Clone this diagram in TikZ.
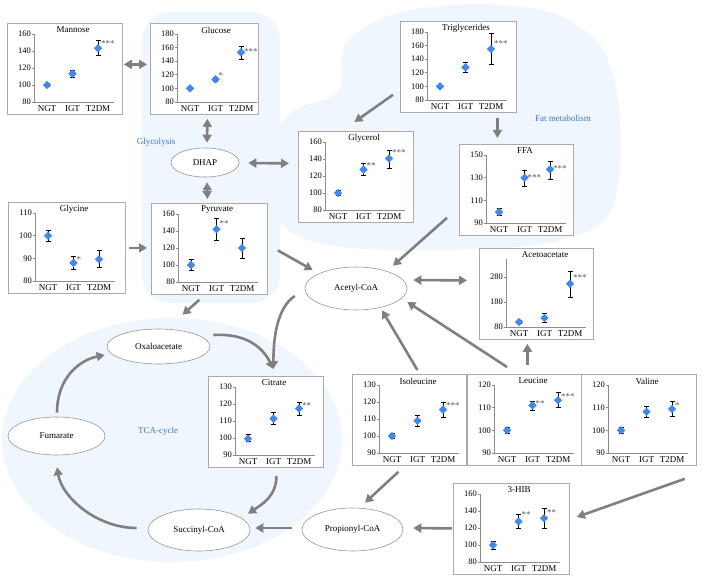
\documentclass[tikz,border=0pt]{standalone}
\usepackage{fontspec}
\setmainfont{Liberation Serif}
\usepackage{tikz}
\usetikzlibrary{arrows.meta,shapes.geometric,calc}

\definecolor{bloblue}{RGB}{239,246,253}
\definecolor{markblue}{RGB}{66,135,235}
\definecolor{flowgray}{RGB}{128,128,128}
\definecolor{framegray}{RGB}{170,170,170}
\definecolor{axisgray}{RGB}{140,140,140}
\definecolor{edgegray}{RGB}{150,150,150}
\definecolor{stargray}{RGB}{90,90,90}
\definecolor{labblue}{RGB}{68,114,196}

% y position of a value inside the current chart
\newcommand{\yof}[1]{\chy+79-(#1-\chlo)/(\chhi-\chlo)*68}

% small chart: name, x, y (top left), title, ymin, ymax, ticks, width
\newcommand{\minichart}[8]{%
  \def\chname{#1}\def\chx{#2}\def\chy{#3}\def\chlo{#5}\def\chhi{#6}%
  \node[chartbox,minimum width=#8pt,anchor=north west] (#1) at (#2,#3) {};
  \node[charttitle] (#1-title) at ({#2+66},{#3+7}) {#4};
  \draw[chartaxis] ({#2+27},{#3+11}) -- ({#2+27},{#3+79}) -- ({#2+107},{#3+79});
  \foreach \tk in {#7}{
    \draw[chartaxis] ({#2+25},{\yof{\tk}}) -- ({#2+27},{\yof{\tk}});
    \node[ticklab] (#1-t\tk) at ({#2+24},{\yof{\tk}}) {\tk};
  }
  \node[grplab] (#1-ngt) at ({#2+40},{#3+86}) {NGT};
  \node[grplab] (#1-igt) at ({#2+65.5},{#3+86}) {IGT};
  \node[grplab] (#1-t2dm) at ({#2+91},{#3+86}) {T2DM};
}

% one group: column, mean, low, high, stars, star level
\newcommand{\chartpoint}[6]{%
  \draw[errbar] ({\chx+14.5+25.5*#1},{\yof{#3}}) -- ({\chx+14.5+25.5*#1},{\yof{#4}})
    ({\chx+12+25.5*#1},{\yof{#3}}) -- ({\chx+17+25.5*#1},{\yof{#3}})
    ({\chx+12+25.5*#1},{\yof{#4}}) -- ({\chx+17+25.5*#1},{\yof{#4}});
  \node[diam] (\chname-d#1) at ({\chx+14.5+25.5*#1},{\yof{#2}}) {};
  \node[sigstar] (\chname-s#1) at ({\chx+17.5+25.5*#1},{\yof{#6}+1.5}) {#5};
}

\begin{document}
\begin{tikzpicture}[x=1pt,y=-1pt,
  chartbox/.style={draw=framegray,fill=white,line width=0.8pt,minimum height=91pt,inner sep=0pt},
  charttitle/.style={font=\fontsize{9}{10}\selectfont,inner sep=0pt},
  ticklab/.style={font=\fontsize{8.5}{10}\selectfont,anchor=east,inner sep=0pt},
  grplab/.style={font=\fontsize{9}{10}\selectfont,inner sep=0pt},
  chartaxis/.style={draw=axisgray,line width=0.6pt},
  errbar/.style={draw=black,line width=0.6pt},
  diam/.style={diamond,fill=markblue,inner sep=0pt,minimum width=8.5pt,minimum height=8.5pt},
  sigstar/.style={font=\fontsize{9}{10}\selectfont,text=stargray,anchor=west,inner sep=0pt},
  metab/.style={ellipse,draw=edgegray,fill=white,line width=0.6pt,inner sep=0pt,font=\fontsize{9}{10}\selectfont},
  flow/.style={draw=flowgray,line width=2.6pt,-{Triangle[length=8pt,width=9pt]}},
  twoway/.style={draw=flowgray,line width=2.6pt,{Triangle[length=8pt,width=9pt]}-{Triangle[length=8pt,width=9pt]}},
  pathlab/.style={text=labblue,font=\fontsize{9}{10}\selectfont}
]
  \useasboundingbox (0,0) rectangle (703,580);

  % pathway backgrounds
  \fill[bloblue,rounded corners=28pt] (142,12) rectangle (280,303);
  \fill[bloblue] plot[smooth cycle] coordinates {(338,92) (345,45) (390,15) (470,4) (550,12)
    (600,45) (618,100) (620,170) (605,220) (550,243) (450,250) (350,248) (290,232)
    (265,190) (270,140) (295,110)};
  \fill[bloblue] (172,440) ellipse [x radius=170pt,y radius=122pt];

  \node[pathlab] (glylab) at (156,142) {Glycolysis};
  \node[pathlab] (fatlab) at (563,118) {Fat metabolism};
  \node[pathlab] (tcalab) at (158,431) {TCA-cycle};

  % charts
  \minichart{mannose}{7}{23}{Mannose}{80}{160}{80,100,...,160}{115}
  \chartpoint{1}{100}{98.5}{101.5}{}{100}
  \chartpoint{2}{113.4}{109}{117.3}{}{117}
  \chartpoint{3}{143.3}{135}{152.8}{***}{150.6}

  \minichart{glucose}{150}{23}{Glucose}{80}{180}{80,100,...,180}{108}
  \chartpoint{1}{100}{99}{101}{}{100}
  \chartpoint{2}{113.3}{110.4}{116.3}{*}{121}
  \chartpoint{3}{153}{143}{162}{***}{157}

  \minichart{tri}{400}{21}{Triglycerides}{80}{180}{80,100,...,180}{116}
  \chartpoint{1}{100}{98}{102}{}{100}
  \chartpoint{2}{128}{120.3}{135.8}{}{130}
  \chartpoint{3}{155}{131.8}{178.5}{***}{164.5}

  \minichart{glycerol}{298}{131}{Glycerol}{80}{160}{80,100,...,160}{115}
  \chartpoint{1}{100}{97}{103}{}{100}
  \chartpoint{2}{127.5}{120.4}{135.5}{**}{133.5}
  \chartpoint{3}{140.6}{129.6}{150.5}{***}{149.3}

  \minichart{ffa}{459}{144}{FFA}{90}{150}{90,110,...,150}{114}
  \chartpoint{1}{99.6}{96.5}{103}{}{100}
  \chartpoint{2}{130}{122.2}{136.6}{***}{131.6}
  \chartpoint{3}{137.3}{129}{144.5}{***}{139.4}

  \minichart{glycine}{8}{202}{Glycine}{80}{110}{80,90,...,110}{117}
  \chartpoint{1}{100}{97.5}{102.2}{}{100}
  \chartpoint{2}{88}{85}{91}{*}{90.3}
  \chartpoint{3}{89.6}{85.9}{93.4}{}{90}

  \minichart{pyr}{151}{203}{Pyruvate}{80}{160}{80,100,...,160}{116}
  \chartpoint{1}{100}{93.2}{107}{}{100}
  \chartpoint{2}{142}{129.2}{154.8}{**}{150}
  \chartpoint{3}{120}{108}{130.9}{}{120}

  \minichart{aceto}{479}{248}{Acetoacetate}{80}{352}{80,180,280}{114}
  \chartpoint{1}{100}{95}{105}{}{100}
  \chartpoint{2}{116}{99}{133}{}{116}
  \chartpoint{3}{253}{200}{303}{***}{283}

  \minichart{citrate}{208}{376}{Citrate}{90}{130}{90,100,...,130}{115}
  \chartpoint{1}{99.6}{97.8}{102.2}{}{100}
  \chartpoint{2}{111.4}{107.8}{115.3}{}{111}
  \chartpoint{3}{117.4}{113.5}{121}{**}{120}

  \minichart{iso}{352}{374}{Isoleucine}{90}{130}{90,100,...,130}{114}
  \chartpoint{1}{100}{98.5}{101.5}{}{100}
  \chartpoint{2}{109}{106}{112}{}{109}
  \chartpoint{3}{115.5}{111.2}{120}{***}{119}

  \minichart{leu}{467}{374}{Leucine}{90}{120}{90,100,...,120}{114}
  \chartpoint{1}{100}{98.8}{101.2}{}{100}
  \chartpoint{2}{111}{109}{113}{**}{112.6}
  \chartpoint{3}{113.3}{110}{116.8}{***}{115.5}

  \minichart{val}{581}{374}{Valine}{90}{120}{90,100,...,120}{115}
  \chartpoint{1}{100}{98.8}{101.2}{}{100}
  \chartpoint{2}{108.2}{105.8}{110.6}{}{108}
  \chartpoint{3}{109.4}{106.4}{112.7}{*}{111.5}

  \minichart{hib}{453}{483}{3-HIB}{80}{160}{80,100,...,160}{116}
  \chartpoint{1}{100}{95}{104.7}{}{100}
  \chartpoint{2}{127.6}{119.6}{136.2}{**}{137.4}
  \chartpoint{3}{131.5}{119.6}{143.5}{**}{140}

  % metabolites
  \node[metab,minimum width=68pt,minimum height=29pt] (dhap) at (205,162.5) {DHAP};
  \node[metab,minimum width=102pt,minimum height=43pt] (acetyl) at (356,288.5) {Acetyl-CoA};
  \node[metab,minimum width=103pt,minimum height=35pt] (oxalo) at (158.5,346.5) {Oxaloacetate};
  \node[metab,minimum width=97pt,minimum height=38pt] (fum) at (56.5,436) {Fumarate};
  \node[metab,minimum width=102pt,minimum height=42pt] (succ) at (199,530) {Succinyl-CoA};
  \node[metab,minimum width=101pt,minimum height=43pt] (prop) at (352.5,529.5) {Propionyl-CoA};

  % glycolysis
  \draw[twoway] ($(mannose.east)+(1,-4.5)$) -- ($(glucose.west)+(-3,-4.5)$);
  \draw[twoway] ($(glucose.south)+(3,4)$) -- ($(dhap.north)+(2,-5)$);
  \draw[twoway] ($(dhap.south)+(2,5)$) -- ($(pyr.north)+(-2,-4)$);
  \draw[twoway] ($(dhap.east)+(9,0.5)$) -- ($(glycerol.west)+(-9,-13.5)$);
  \draw[flow] ($(glycine.east)+(3,0)$) -- ($(pyr.west)+(-4,-1)$);
  \draw[flow] ($(pyr.east)+(10,1.5)$) -- ($(acetyl.west)+(8,-18.5)$);
  \draw[flow] ($(pyr.south)+(-10,5)$) -- ($(oxalo.north)+(24,-14)$);

  % fat metabolism
  \draw[flow] ($(tri.south west)+(-7,-18)$) -- ($(glycerol.north)+(-1.5,-9)$);
  \draw[flow] ($(tri.south)+(39,5)$) -- ($(ffa.north)+(-19,-6)$);
  \draw[flow] ($(ffa.south west)+(-12,-18)$) -- ($(acetyl.north)+(37,-1)$);
  \draw[twoway] ($(acetyl.east)+(6,-8.5)$) -- ($(aceto.west)+(-12,-13.5)$);

  % TCA cycle
  \draw[flow] ($(acetyl.west)+(-10,7.5)$) .. controls +(-18,12) and +(0,-30) .. ($(citrate.north)+(7.5,-7)$);
  \draw[flow] ($(oxalo.east)+(3,-11.5)$) .. controls +(35,-2) and +(-10,-20) .. ($(citrate.north)+(7.5,-7)$);
  \draw[flow] ($(citrate.south)+(10.5,8)$) .. controls +(0,20) and +(15,-10) .. ($(succ.north)+(49,5)$);
  \draw[flow] ($(succ.west)+(-11,-2)$) .. controls +(-40,0) and +(5,30) .. ($(fum.south)+(0.5,12)$);
  \draw[flow] ($(fum.north)+(0.5,-4)$) .. controls +(0,-35) and +(-25,5) .. ($(oxalo.west)+(-2,8.5)$);

  % amino acids
  \draw[flow] ($(prop.west)+(-10,-1.5)$) -- ($(succ.east)+(5,-2)$);
  \draw[flow] ($(hib.west)+(-1,-0.5)$) -- ($(prop.east)+(10,-1.5)$);
  \draw[flow] ($(val.south east)+(-12,13)$) -- ($(hib.north east)+(7,34)$);
  \draw[flow] ($(iso.south)+(-11,6)$) -- ($(prop.north)+(12.5,-5)$);
  \draw[flow] ($(iso.north)+(8,-4)$) -- ($(acetyl.south)+(26,0)$);
  \draw[flow] ($(leu.north west)+(40,-7)$) -- ($(acetyl.east)+(0,13.5)$);
  \draw[flow] ($(leu.north)+(3,-9)$) -- ($(aceto.south)+(-9,4)$);
\end{tikzpicture}
\end{document}
